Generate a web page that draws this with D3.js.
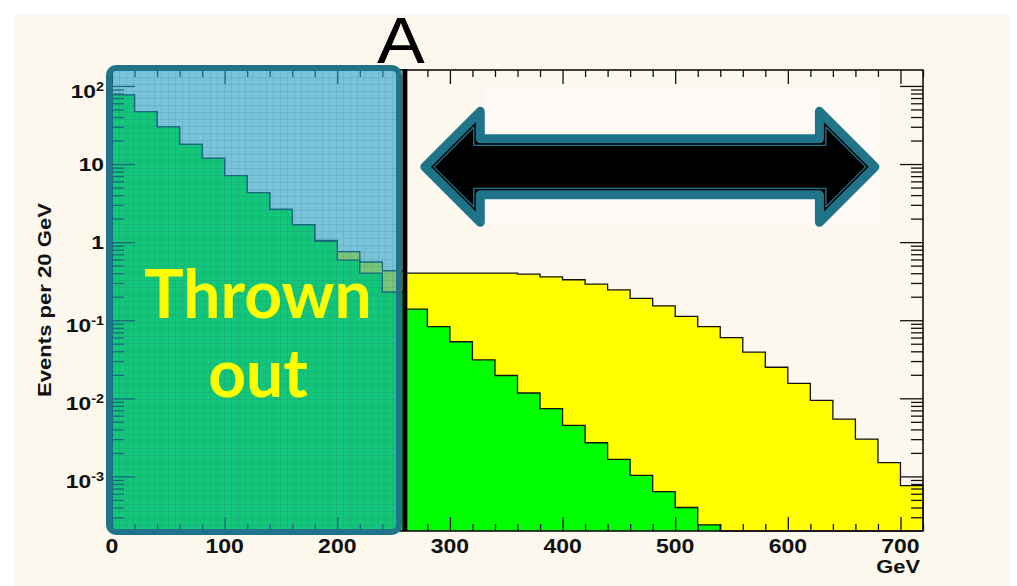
<!DOCTYPE html>
<html>
<head>
<meta charset="utf-8">
<script src="https://cdn.jsdelivr.net/npm/d3@7"></script>
<style>
  body { margin: 0; background: #fff; }
  svg { display: block; }
</style>
</head>
<body>
<div id="graph"></div>
<script>
// 20 GeV bins, 0..720
const binEdges = d3.range(0, 721, 20);

// green histogram (drawn in front)
const greenCounts = [77, 47, 30, 17.9, 11.8, 7.1, 4.3, 2.63, 1.67, 1.02,
  0.59, 0.40, 0.23, 0.139, 0.083, 0.053, 0.031, 0.0196, 0.0117, 0.0074,
  0.0045, 0.0027, 0.00165, 0.00103, 0.00064, 0.0004, 0.00024,
  0, 0, 0, 0, 0, 0, 0, 0, 0];

// yellow histogram (stacked total, drawn behind)
const yellowCounts = [77, 47, 30, 17.9, 11.8, 7.1, 4.3, 2.63, 1.67, 1.05,
  0.755, 0.557, 0.43, 0.40, 0.40, 0.40, 0.40, 0.40, 0.39, 0.36,
  0.33, 0.29, 0.244, 0.19, 0.153, 0.112, 0.083, 0.06, 0.039, 0.025,
  0.0155, 0.0094, 0.0054, 0.003, 0.0015, 0.00076];

const xMajorTicks = [0, 100, 200, 300, 400, 500, 600, 700];
const yMajorTicks = [100, 10, 1, 0.1, 0.01, 0.001];
const yTickBase = ["10", "10", "1", "10", "10", "10"];
const yTickExp = ["2", "", "", "-1", "-2", "-3"];

const cutValue = 260;          // "A"
const arrowFrom = 272, arrowTo = 683, arrowLevel = 9.2;

const width = 1017, height = 586;
const teal = "#1f7489";

const svg = d3.select('#graph').append('svg')
  .attr('width', width).attr('height', height)
  .style('font-family', '"Liberation Sans", Arial, sans-serif');

const defs = svg.append('defs');
const pat = defs.append('pattern').attr('id', 'hatch')
  .attr('width', 7).attr('height', 7).attr('patternUnits', 'userSpaceOnUse');
pat.append('rect').attr('width', 7).attr('height', 7).attr('fill', 'rgba(32,160,201,0.6)');
pat.append('path').attr('d', 'M0.5,0V7M0,0.5H7')
  .attr('stroke', 'rgba(20,95,125,0.13)').attr('stroke-width', 1);

// slide background
svg.append('rect').attr('width', width).attr('height', height).attr('fill', '#fff');
svg.append('rect').attr('x', 15).attr('y', 15).attr('width', 995).attr('height', 571)
  .attr('fill', '#fcf8ed');

var xScale = d3.scaleLinear().domain([0, 720]).range([112, 923]);
var yScale = d3.scaleLog().domain([2.0e-4, 160]).range([531, 70]);
const floorVal = yScale.domain()[0];

// pasted arrow picture background
svg.append('rect')
  .attr('x', xScale(330)).attr('y', yScale(94))
  .attr('width', xScale(680) - xScale(330))
  .attr('height', yScale(1.52) - yScale(94))
  .attr('fill', '#fdfaf5');

function stepPoints(vals) {
  let pts = [[binEdges[0], floorVal]];
  vals.forEach((v, i) => {
    let vv = v > 0 ? v : floorVal;
    pts.push([binEdges[i], vv], [binEdges[i + 1], vv]);
  });
  pts.push([binEdges[binEdges.length - 1], floorVal]);
  return pts;
}

let line = d3.line()
  .x(d => xScale(d[0]))
  .y(d => yScale(d[1]));

svg.append('path').datum(stepPoints(yellowCounts))
  .attr('d', line).attr('fill', '#ffff00')
  .attr('stroke', '#111').attr('stroke-width', 1.3);
svg.append('path').datum(stepPoints(greenCounts))
  .attr('d', line).attr('fill', '#00ff00')
  .attr('stroke', '#111').attr('stroke-width', 1.3);

// ticks
const xMinorTicks = d3.range(0, 721, 20).filter(v => v % 100 != 0);
let yMinorTicks = [];
for (let e = -4; e <= 2; e++) {
  for (let k = 2; k <= 9; k++) {
    let v = k * Math.pow(10, e);
    if (v > floorVal && v < 160) yMinorTicks.push(v);
  }
}

function tickAxis(axis, tx, ty) {
  svg.append('g').attr('transform', `translate(${tx},${ty})`)
    .call(axis)
    .call(g => g.select('.domain').remove())
    .call(g => g.selectAll('line').attr('stroke', '#111').attr('stroke-width', 1.3));
}
tickAxis(d3.axisBottom(xScale).tickValues(xMajorTicks).tickSize(-14).tickFormat(''), 0, 531);
tickAxis(d3.axisBottom(xScale).tickValues(xMinorTicks).tickSize(-7).tickFormat(''), 0, 531);
tickAxis(d3.axisTop(xScale).tickValues(xMajorTicks).tickSize(-14).tickFormat(''), 0, 70);
tickAxis(d3.axisTop(xScale).tickValues(xMinorTicks).tickSize(-7).tickFormat(''), 0, 70);
tickAxis(d3.axisLeft(yScale).tickValues(yMajorTicks).tickSize(-23).tickFormat(''), 112, 0);
tickAxis(d3.axisLeft(yScale).tickValues(yMinorTicks).tickSize(-12).tickFormat(''), 112, 0);
tickAxis(d3.axisRight(yScale).tickValues(yMajorTicks).tickSize(-23).tickFormat(''), 923, 0);
tickAxis(d3.axisRight(yScale).tickValues(yMinorTicks).tickSize(-12).tickFormat(''), 923, 0);

// frame
svg.append('rect')
  .attr('x', 112).attr('y', 70).attr('width', 923 - 112).attr('height', 531 - 70)
  .attr('fill', 'none').attr('stroke', '#111').attr('stroke-width', 1.6);

// x labels
svg.append('g').selectAll('text').data(xMajorTicks).enter().append('text')
  .attr('transform', d => `translate(${xScale(d)},553) scale(1.15,1)`)
  .attr('text-anchor', 'middle')
  .style('font-size', '20px').style('font-weight', 'bold').attr('fill', '#111')
  .text(d => d);

svg.append('text')
  .attr('transform', 'translate(920,573) scale(1.15,1)')
  .attr('text-anchor', 'end')
  .style('font-size', '19px').style('font-weight', 'bold').attr('fill', '#111')
  .text('GeV');

// y labels
let yl = svg.append('g').selectAll('text').data(yMajorTicks).enter().append('text')
  .attr('transform', (d, i) => `translate(104,${yScale(d) + (yTickExp[i] ? 12 : 7)}) scale(1.2,1)`)
  .attr('text-anchor', 'end')
  .style('font-size', '19px').style('font-weight', 'bold').attr('fill', '#111');
yl.append('tspan').text((d, i) => yTickBase[i]);
yl.append('tspan').attr('dy', -7).style('font-size', '12px').text((d, i) => yTickExp[i]);

svg.append('text')
  .attr('transform', 'translate(51,300) rotate(-90)')
  .attr('text-anchor', 'middle')
  .attr('textLength', 194).attr('lengthAdjust', 'spacingAndGlyphs')
  .style('font-size', '18px').style('font-weight', 'bold').attr('fill', '#111')
  .text('Events per 20 GeV');

// thrown out box
svg.append('rect')
  .attr('x', 109).attr('y', 68).attr('width', 290).attr('height', 464)
  .attr('rx', 7).attr('fill', 'url(#hatch)')
  .attr('stroke', teal).attr('stroke-width', 6);

svg.append('line')
  .attr('x1', xScale(cutValue)).attr('x2', xScale(cutValue))
  .attr('y1', 69).attr('y2', 531)
  .attr('stroke', '#000').attr('stroke-width', 5);

svg.append('text').attr('x', 258).attr('y', 318)
  .attr('text-anchor', 'middle').attr('fill', '#ffff00')
  .style('font-family', 'Lato, "Open Sans", sans-serif')
  .style('font-size', '66px').style('font-weight', 'bold')
  .text('Thrown');
svg.append('text').attr('x', 258).attr('y', 397)
  .attr('text-anchor', 'middle').attr('fill', '#ffff00')
  .style('font-family', 'Lato, "Open Sans", sans-serif')
  .style('font-size', '66px').style('font-weight', 'bold')
  .text('out');

// double arrow
let ax0 = xScale(arrowFrom), ax1 = xScale(arrowTo);
let acx = (ax0 + ax1) / 2, acy = yScale(arrowLevel);
let Lt0 = (ax1 - ax0) / 2 - 6.4, H0 = 55.5, S0 = 28;

function arrowPath(d) {
  let Lt = Lt0 - d * Math.SQRT2, H = H0 - d * (1 + Math.SQRT2), S = S0 - d;
  let Lb = Lt - H;
  let p = [[Lt, 0], [Lb, -H], [Lb, -S], [-Lb, -S], [-Lb, -H], [-Lt, 0],
           [-Lb, H], [-Lb, S], [Lb, S], [Lb, H]];
  return 'M' + p.map(q => `${acx + q[0]},${acy + q[1]}`).join('L') + 'Z';
}
svg.append('path').attr('d', arrowPath(0))
  .attr('fill', '#000').attr('stroke', teal)
  .attr('stroke-width', 9).attr('stroke-linejoin', 'round');
svg.append('path').attr('d', arrowPath(6.5))
  .attr('fill', 'none').attr('stroke', teal)
  .attr('stroke-width', 1.3).attr('stroke-linejoin', 'round');

svg.append('text')
  .attr('transform', `translate(${xScale(cutValue) - 4},63) scale(1.12,1)`)
  .attr('text-anchor', 'middle').attr('fill', '#000')
  .style('font-size', '64px')
  .text('A');
</script>
</body>
</html>
